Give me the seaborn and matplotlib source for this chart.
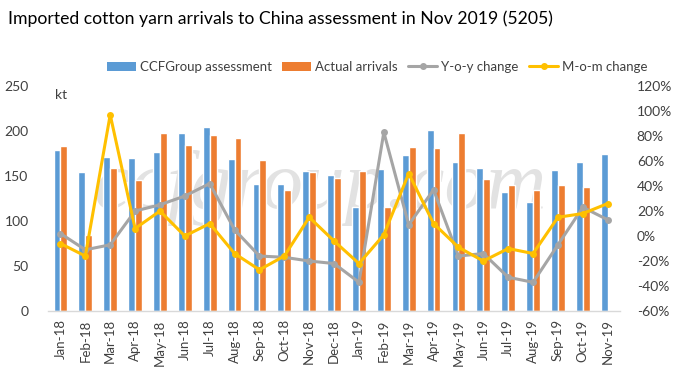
import numpy as np
import pandas as pd
import matplotlib
matplotlib.use("Agg")
import matplotlib.pyplot as plt
import seaborn as sns
from matplotlib.lines import Line2D
from matplotlib.patches import Patch

months = ["Jan-18", "Feb-18", "Mar-18", "Apr-18", "May-18", "Jun-18", "Jul-18", "Aug-18",
          "Sep-18", "Oct-18", "Nov-18", "Dec-18", "Jan-19", "Feb-19", "Mar-19", "Apr-19",
          "May-19", "Jun-19", "Jul-19", "Aug-19", "Sep-19", "Oct-19", "Nov-19"]
ccf_assessment = [179, 154, 171, 170, 177, 198, 204, 169, 141, 141, 156, 151, 116, 158,
                  173, 201, 166, 159, 132, 121, 157, 166, 174]
actual_arrivals = [183, 85, 159, 146, 198, 185, 196, 192, 168, 134, 154, 148, 156, 116,
                   182, 181, 198, 147, 140, 135, 140, 138, np.nan]
yoy_change = [2, -11, -7, 20, 25, 32, 42, 5, -16, -17, -20, -22, -37, 83, 9, 37, -16,
              -14, -33, -37, -7, 23, 13]
mom_change = [-6, -16, 97, 6, 20, 0, 10, -14, -27, -16, 15, -4, -22, 1, 50, 10, -9,
              -20, -10, -14, 15, 18, 26]

blue = "#5B9BD5"
orange = "#ED7D31"
gray = "#A5A5A5"
yellow = "#FFC000"

sns.set_theme(style="white")
plt.rcParams["font.family"] = ["Lato", "DejaVu Sans"]

df = pd.DataFrame({
    "month": months * 2,
    "value": ccf_assessment + actual_arrivals,
    "series": ["CCFGroup assessment"] * len(months) + ["Actual arrivals"] * len(months),
})

fig = plt.figure(figsize=(6.86, 3.84), dpi=100)
ax = fig.add_axes([0.070, 0.190, 0.834, 0.586])

ax.text(0.476, 0.46, "ccfgroup.com", transform=ax.transAxes, fontsize=60,
        fontstyle="italic", family=["Liberation Serif"], color="#E2E2E2",
        ha="center", va="baseline", zorder=0.5)

sns.barplot(data=df, x="month", y="value", hue="series", palette=[blue, orange],
            width=0.55, gap=0, ax=ax, legend=False, saturation=1, zorder=2)

ax.set_ylim(0, 250)
ax.set_yticks(np.arange(0, 251, 50))
ax.set_xlim(-0.5, len(months) - 0.5)
ax.set_xlabel("")
ax.set_ylabel("")
for s in ["top", "left", "right"]:
    ax.spines[s].set_visible(False)
ax.spines["bottom"].set_color("#D9D9D9")
ax.spines["bottom"].set_linewidth(1)
ax.set_xticks(np.arange(len(months)))
ax.set_xticklabels(months, rotation=90, fontsize=9.5, color="#404040")
ax.tick_params(axis="x", length=0, pad=6)
ax.set_xticks(np.arange(len(months) + 1) - 0.5, minor=True)
ax.tick_params(axis="x", which="minor", length=5, color="#D9D9D9", width=1)
ax.tick_params(axis="y", length=0, labelsize=10, labelcolor="#404040", pad=14)

ax.text(0.013, 0.985, "kt", transform=ax.transAxes, fontsize=10, color="#404040",
        va="top", ha="left")

ax2 = ax.twinx()
x_pos = np.arange(len(months))
sns.lineplot(x=x_pos, y=yoy_change, ax=ax2, color=gray, linewidth=2.2, marker="o",
             markersize=5, markeredgewidth=0, legend=False)
sns.lineplot(x=x_pos, y=mom_change, ax=ax2, color=yellow, linewidth=2.2, marker="o",
             markersize=5, markeredgewidth=0, legend=False)
ax2.set_ylim(-60, 120)
ax2.set_yticks(np.arange(-60, 121, 20))
ax2.set_yticklabels([f"{v}%" for v in np.arange(-60, 121, 20)])
ax2.tick_params(axis="y", length=0, labelsize=10, labelcolor="#404040", pad=12)
for s in ["top", "left", "right", "bottom"]:
    ax2.spines[s].set_visible(False)
ax2.set_ylabel("")
ax2.grid(False)
ax.grid(False)

fig.text(0.012, 0.952, "Imported cotton yarn arrivals to China assessment in Nov 2019 (5205)",
         fontsize=12.7, color="#000000", ha="left", va="center")

handles = [
    Patch(facecolor=blue, edgecolor="none"),
    Patch(facecolor=orange, edgecolor="none"),
    Line2D([0], [0], color=gray, linewidth=2.2, marker="o", markersize=4),
    Line2D([0], [0], color=yellow, linewidth=2.2, marker="o", markersize=4),
]
labels = ["CCFGroup assessment", "Actual arrivals", "Y-o-y change", "M-o-m change"]
fig.legend(handles, labels, loc="center", bbox_to_anchor=(0.55, 0.826), ncol=4,
           frameon=False, fontsize=9.5, handlelength=2.2, handletextpad=0.3,
           columnspacing=0.8, labelcolor="#404040")

fig.savefig("out.png", dpi=100)
